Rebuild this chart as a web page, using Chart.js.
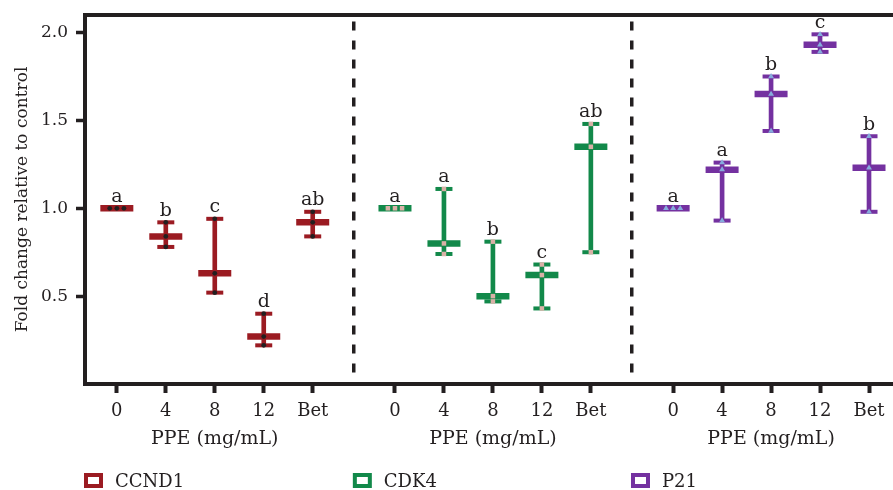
<!DOCTYPE html>
<html><head><meta charset="utf-8">
<script src="https://cdn.jsdelivr.net/npm/chart.js@4"></script>
<style>html,body{margin:0;padding:0;background:#fff;} canvas{display:block;}</style>
</head><body>
<canvas id="c" width="893" height="490"></canvas>
<script>
// ---- data ----
const doses = ['0', '4', '8', '12', 'Bet'];
const genes = ['CCND1', 'CDK4', 'P21'];
const xTitle = 'PPE (mg/mL)';
const yTitle = 'Fold change relative to control';
const yTickValues = [0.5, 1.0, 1.5, 2.0];

const ccnd1Mean = [1.00, 0.84, 0.63, 0.27, 0.92];
const ccnd1Reps = [[1.00, 1.00, 1.00], [0.92, 0.84, 0.78], [0.94, 0.63, 0.52], [0.40, 0.27, 0.22], [0.98, 0.92, 0.84]];
const ccnd1Letters = ['a', 'b', 'c', 'd', 'ab'];

const cdk4Mean = [1.00, 0.80, 0.50, 0.62, 1.35];
const cdk4Reps = [[1.00, 1.00, 1.00], [1.11, 0.80, 0.74], [0.81, 0.50, 0.47], [0.68, 0.62, 0.43], [1.48, 1.35, 0.75]];
const cdk4Letters = ['a', 'a', 'b', 'c', 'ab'];

const p21Mean = [1.00, 1.22, 1.65, 1.93, 1.23];
const p21Reps = [[1.00, 1.00, 1.00], [1.26, 1.22, 0.93], [1.75, 1.65, 1.44], [1.99, 1.93, 1.89], [1.41, 1.23, 0.98]];
const p21Letters = ['a', 'a', 'b', 'c', 'b'];

// ---- style ----
const geneColors = ['#9b1b22', '#12894a', '#7431a0'];
const dotColors = ['#231f20', '#d9b1a7', '#86acdc'];
const dotStyles = ['circle', 'rect', 'triangle'];
const dotRadius = [2.4, 3.2, 3.4];
const ink = '#231f20';
const FONT = '"DejaVu Serif", serif';
const groupStride = 5.68;
const xMin = -0.65, xMax = 15.85, yMin = 0, yMax = 2.1;
const tieSpread = 0.145;

const means = [ccnd1Mean, cdk4Mean, p21Mean];
const reps = [ccnd1Reps, cdk4Reps, p21Reps];
const letters = [ccnd1Letters, cdk4Letters, p21Letters];

const xPos = (g, i) => g * groupStride + i;
const tickPositions = genes.flatMap((_, g) => doses.map((_, i) => xPos(g, i)));
const separators = genes.slice(1).map((_, g) => (xPos(g, doses.length - 1) + xPos(g + 1, 0)) / 2);
const titlePositions = genes.map((_, g) => xPos(g, (doses.length - 1) / 2));

const datasets = [];
genes.forEach((gene, g) => {
  const color = geneColors[g];
  const hi = reps[g].map(r => Math.max(...r));
  const lo = reps[g].map(r => Math.min(...r));
  datasets.push({
    type: 'bar', label: gene,
    data: doses.map((_, i) => ({ x: xPos(g, i), y: [lo[i], hi[i]] })),
    backgroundColor: color, borderWidth: 0, barThickness: 4, grouped: false, order: 4
  });
  datasets.push({
    type: 'scatter', label: gene + ' range',
    data: doses.flatMap((_, i) => [{ x: xPos(g, i), y: hi[i] }, { x: xPos(g, i), y: lo[i] }]),
    pointStyle: 'line', pointRadius: 8.5, pointBorderWidth: 4, pointBorderColor: color, order: 3
  });
  datasets.push({
    type: 'scatter', label: gene + ' mean',
    data: doses.map((_, i) => ({ x: xPos(g, i), y: means[g][i] })),
    pointStyle: 'line', pointRadius: 16.5, pointBorderWidth: 6.5, pointBorderColor: color, order: 2
  });
  const pts = [];
  reps[g].forEach((r, i) => {
    const tied = r.every(v => v === r[0]);
    r.forEach((v, k) => pts.push({ x: xPos(g, i) + (tied ? (k - (r.length - 1) / 2) * tieSpread : 0), y: v }));
  });
  datasets.push({
    type: 'scatter', label: gene + ' replicates', data: pts,
    pointStyle: dotStyles[g], pointRadius: dotRadius[g], pointBackgroundColor: dotColors[g],
    pointBorderWidth: 0, order: 1
  });
});

const lettersPlugin = {
  id: 'letters',
  afterDatasetsDraw(chart) {
    const { ctx, scales: { x, y } } = chart;
    ctx.save();
    ctx.font = '19px ' + FONT;
    ctx.fillStyle = ink;
    ctx.textAlign = 'center';
    ctx.textBaseline = 'alphabetic';
    genes.forEach((_, g) => doses.forEach((_, i) => {
      const top = Math.max(...reps[g][i], means[g][i]);
      ctx.fillText(letters[g][i], x.getPixelForValue(xPos(g, i)), y.getPixelForValue(top) - 6.5);
    }));
    ctx.restore();
  }
};

const legendPlugin = {
  id: 'geneLegend',
  afterDraw(chart) {
    const { ctx, chartArea, scales: { x } } = chart;
    const starts = [chartArea.left, ...separators.map(s => x.getPixelForValue(s))];
    const by = chart.height - 17;
    ctx.save();
    genes.forEach((gene, g) => {
      const bx = starts[g] - 1;
      ctx.lineWidth = 4;
      ctx.strokeStyle = geneColors[g];
      ctx.strokeRect(bx + 2, by + 2, 15, 11);
      ctx.font = '18px ' + FONT;
      ctx.fillStyle = ink;
      ctx.textAlign = 'left';
      ctx.textBaseline = 'alphabetic';
      ctx.fillText(gene, bx + 31, by + 14);
    });
    ctx.restore();
  }
};

const noPad = s => { s.paddingLeft = 0; s.paddingRight = 0; s.paddingTop = 0; s.paddingBottom = 0; };

new Chart(document.getElementById('c'), {
  type: 'scatter',
  data: { datasets },
  plugins: [lettersPlugin, legendPlugin],
  options: {
    responsive: false, animation: false, devicePixelRatio: 1, events: [],
    layout: { autoPadding: false, padding: { left: 0, right: 0, top: 0, bottom: 36 } },
    plugins: { legend: { display: false }, tooltip: { enabled: false } },
    scales: {
      x: {
        type: 'linear', position: 'bottom', min: xMin, max: xMax, offset: false,
        afterBuildTicks: s => { s.ticks = tickPositions.map(v => ({ value: v })); },
        afterFit: s => { s.height = 36; noPad(s); },
        ticks: { autoSkip: false, maxRotation: 0, padding: 8, color: ink, font: { family: FONT, size: 18 },
          callback: (v, i) => doses[i % doses.length] },
        grid: { drawOnChartArea: false, drawTicks: true, tickLength: 9, tickWidth: 4, tickColor: ink, offset: false },
        border: { display: true, width: 4, color: ink }
      },
      xt: {
        type: 'linear', position: 'bottom', weight: 1, min: xMin, max: xMax, offset: false,
        afterBuildTicks: s => { s.ticks = titlePositions.map(v => ({ value: v })); },
        afterFit: s => { s.height = 34; noPad(s); },
        ticks: { autoSkip: false, maxRotation: 0, padding: 0, color: ink, font: { family: FONT, size: 19 },
          callback: () => xTitle },
        grid: { display: false, offset: false },
        border: { display: false }
      },
      x2: {
        type: 'linear', position: 'top', min: xMin, max: xMax, offset: false,
        afterBuildTicks: s => { s.ticks = separators.map(v => ({ value: v })); },
        afterFit: s => { s.height = 15; noPad(s); },
        ticks: { display: false },
        grid: { display: true, drawOnChartArea: true, drawTicks: false, color: ink, lineWidth: 3.5, offset: false },
        border: { display: true, width: 4, color: ink, dash: [9, 10], dashOffset: 14.5 }
      },
      y: {
        type: 'linear', position: 'left', min: yMin, max: yMax,
        afterBuildTicks: s => { s.ticks = yTickValues.map(v => ({ value: v })); },
        afterFit: s => { s.width = 85; noPad(s); },
        ticks: { padding: 8, color: ink, font: { family: FONT, size: 17 }, callback: v => v.toFixed(1) },
        grid: { drawOnChartArea: false, drawTicks: true, tickLength: 9, tickWidth: 3.5, tickColor: ink },
        border: { display: true, width: 4, color: ink },
        title: { display: true, text: yTitle, color: ink, font: { family: FONT, size: 17 }, padding: { top: 12, bottom: 0 } }
      }
    }
  }
});
</script>
</body></html>
